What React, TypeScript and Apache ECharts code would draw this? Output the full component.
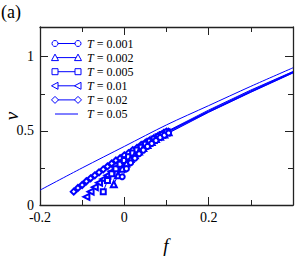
import React, { useEffect, useRef } from "react";
import * as echarts from "echarts";

const BLUE = "#0000ff";
const AXIS = "#222222";
const FONT = "Liberation Serif";

// tail points (no markers) shared by the marked curves
const tailF = [0.2, 0.3, 0.4];

// T = 0.001 (circles)
const fT001 = [-0.005, 0.005, 0.015, 0.025, 0.035, 0.045, 0.055, 0.065, 0.075, 0.085, 0.095, 0.105];
const vT001 = [0.19, 0.245, 0.285, 0.315, 0.345, 0.37, 0.395, 0.415, 0.435, 0.455, 0.47, 0.485];
const tailT001 = [0.625, 0.76, 0.89];

// T = 0.002 (up triangles)
const fT002 = [-0.025, -0.015, -0.005, 0.005, 0.015, 0.025, 0.035, 0.045, 0.055, 0.065, 0.075, 0.085, 0.095, 0.105];
const vT002 = [0.14, 0.2, 0.245, 0.28, 0.31, 0.335, 0.36, 0.385, 0.405, 0.425, 0.445, 0.46, 0.475, 0.49];
const tailT002 = [0.627, 0.762, 0.892];

// T = 0.005 (squares)
const fT005 = [-0.05, -0.04, -0.03, -0.02, -0.01, 0, 0.01, 0.02, 0.03, 0.04, 0.05, 0.06, 0.07, 0.08, 0.09, 0.1];
const vT005 = [0.09, 0.165, 0.21, 0.245, 0.275, 0.3, 0.325, 0.35, 0.37, 0.39, 0.41, 0.43, 0.445, 0.46, 0.475, 0.49];
const tailT005 = [0.63, 0.765, 0.895];

// T = 0.01 (left triangles)
const fT01 = [-0.09, -0.08, -0.07, -0.06, -0.05, -0.04, -0.03, -0.02, -0.01, 0, 0.01, 0.02, 0.03, 0.04, 0.05, 0.06, 0.07, 0.08, 0.09, 0.1];
const vT01 = [0.055, 0.09, 0.12, 0.15, 0.175, 0.2, 0.225, 0.25, 0.28, 0.305, 0.325, 0.345, 0.365, 0.385, 0.405, 0.425, 0.44, 0.46, 0.475, 0.49];
const tailT01 = [0.635, 0.77, 0.898];

// T = 0.02 (diamonds)
const fT02 = [-0.12, -0.11, -0.1, -0.09, -0.08, -0.07, -0.06, -0.05, -0.04, -0.03, -0.02, -0.01, 0, 0.01, 0.02, 0.03, 0.04, 0.05, 0.06, 0.07, 0.08, 0.09, 0.1];
const vT02 = [0.09, 0.115, 0.135, 0.16, 0.18, 0.2, 0.22, 0.24, 0.26, 0.28, 0.3, 0.315, 0.335, 0.35, 0.37, 0.385, 0.405, 0.42, 0.435, 0.45, 0.465, 0.48, 0.495];
const tailT02 = [0.64, 0.775, 0.9];

// T = 0.05 (plain line)
const fT05 = [-0.2, -0.1, 0, 0.1, 0.2, 0.3, 0.4];
const vT05 = [0.1, 0.25, 0.395, 0.54, 0.67, 0.8, 0.925];

const legendLabels = ["0.001", "0.002", "0.005", "0.01", "0.02", "0.05"];
const xTicks = [-0.2, 0, 0.2];
const yTicks = [0, 0.5, 1];

const fmt = (ticks: number[]) => (val: number) => {
  const t = ticks.find((k) => Math.abs(k - val) < 1e-9);
  return t === undefined ? "" : String(t);
};

const build = (f: number[], v: number[], tv: number[]) => {
  const d: any[] = f.map((x, i) => [x, v[i]]);
  tailF.forEach((x, i) => d.push({ value: [x, tv[i]], symbol: "none" }));
  return d;
};

const markerSeries = (name: string, symbol: string, data: any[], rotate = 0, size = 6) => ({
  name,
  type: "line",
  data,
  symbol,
  symbolSize: size,
  symbolRotate: rotate,
  showSymbol: true,
  showAllSymbol: true,
  lineStyle: { color: BLUE, width: 1 },
  itemStyle: { color: BLUE, borderWidth: 1 },
  z: 3,
});

const legendGraphic = () => {
  const out: any[] = [];
  const y0 = 43.5;
  const step = 14.1;
  const x1 = 55;
  const x2 = 78;
  const stroke = { stroke: BLUE, lineWidth: 1, fill: "#ffffff" };
  const sym = (kind: string, cx: number, cy: number) => {
    const r = 3;
    if (kind === "circle") return { type: "circle", shape: { cx, cy, r }, style: stroke, z: 10 };
    if (kind === "up")
      return { type: "polygon", shape: { points: [[cx, cy - r - 0.5], [cx + r + 0.5, cy + r], [cx - r - 0.5, cy + r]] }, style: stroke, z: 10 };
    if (kind === "rect") return { type: "rect", shape: { x: cx - r, y: cy - r, width: 2 * r, height: 2 * r }, style: stroke, z: 10 };
    if (kind === "left")
      return { type: "polygon", shape: { points: [[cx - r - 0.5, cy], [cx + r, cy - r - 0.5], [cx + r, cy + r + 0.5]] }, style: stroke, z: 10 };
    return { type: "polygon", shape: { points: [[cx, cy - r - 0.5], [cx + r + 0.5, cy], [cx, cy + r + 0.5], [cx - r - 0.5, cy]] }, style: stroke, z: 10 };
  };
  const kinds = ["circle", "up", "rect", "left", "diamond", "none"];
  legendLabels.forEach((lab, i) => {
    const y = y0 + i * step;
    out.push({ type: "line", shape: { x1, y1: y, x2, y2: y }, style: { stroke: BLUE, lineWidth: 1 }, z: 9 });
    if (kinds[i] !== "none") {
      out.push(sym(kinds[i], x1, y));
      out.push(sym(kinds[i], x2, y));
    }
    out.push({
      type: "text",
      x: 87,
      y,
      style: {
        text: "{i|T} = " + lab,
        fontFamily: FONT,
        fontSize: 12,
        fill: "#000",
        verticalAlign: "middle",
        rich: { i: { fontStyle: "italic", fontFamily: FONT, fontSize: 12, fill: "#000" } },
      },
      z: 10,
    });
  });
  return out;
};

export default function App() {
  const ref = useRef<HTMLDivElement>(null);
  useEffect(() => {
    if (!ref.current) return;
    const chart = echarts.init(ref.current, null, { renderer: "svg" });
    const axisCommon = {
      type: "value",
      axisLine: { show: true, onZero: false, lineStyle: { color: AXIS, width: 1.3 } },
      axisTick: { show: true, inside: true, length: 8, lineStyle: { color: AXIS, width: 1 } },
      minorTick: { show: true, splitNumber: 2, length: 5, lineStyle: { color: AXIS, width: 1 } },
      splitLine: { show: false },
      minorSplitLine: { show: false },
    };
    chart.setOption({
      animation: false,
      backgroundColor: "#ffffff",
      grid: { left: 40, top: 27, right: 2, bottom: 51, containLabel: false, outerBoundsMode: "none" },
      xAxis: [
        {
          ...axisCommon,
          min: -0.2,
          max: 0.4,
          interval: 0.2,
          position: "bottom",
          axisLabel: { formatter: fmt(xTicks), fontFamily: FONT, fontSize: 14, color: "#000", margin: 5 },
        },
        {
          ...axisCommon,
          min: -0.2,
          max: 0.4,
          interval: 0.2,
          position: "top",
          axisLabel: { show: false },
        },
      ],
      yAxis: [
        {
          ...axisCommon,
          min: 0,
          max: 1.2,
          interval: 0.5,
          position: "left",
          axisLabel: { formatter: fmt(yTicks), fontFamily: FONT, fontSize: 14, color: "#000", margin: 6 },
        },
        {
          ...axisCommon,
          min: 0,
          max: 1.2,
          interval: 0.5,
          position: "right",
          axisLabel: { show: false },
        },
      ],
      series: [
        {
          name: "T = 0.05",
          type: "line",
          data: fT05.map((x, i) => [x, vT05[i]]),
          symbol: "none",
          smooth: 0.3,
          lineStyle: { color: BLUE, width: 1 },
          z: 2,
        },
        markerSeries("T = 0.02", "emptyDiamond", build(fT02, vT02, tailT02), 0, 6),
        markerSeries("T = 0.01", "emptyTriangle", build(fT01, vT01, tailT01), 90, 6),
        markerSeries("T = 0.005", "emptyRect", build(fT005, vT005, tailT005), 0, 5),
        markerSeries("T = 0.002", "emptyTriangle", build(fT002, vT002, tailT002), 0, 6),
        markerSeries("T = 0.001", "emptyCircle", build(fT001, vT001, tailT001), 0, 5),
      ],
      graphic: [
        {
          type: "text",
          x: 1,
          y: 3,
          style: { text: "(a)", fontFamily: FONT, fontSize: 18, fill: "#000" },
        },
        {
          type: "text",
          x: 11,
          y: 116,
          rotation: Math.PI / 2,
          style: {
            text: "v",
            fontFamily: FONT,
            fontStyle: "italic",
            fontSize: 19,
            fill: "#000",
            align: "center",
            verticalAlign: "middle",
          },
        },
        {
          type: "text",
          x: 166,
          y: 245,
          style: {
            text: "f",
            fontFamily: FONT,
            fontStyle: "italic",
            fontSize: 19,
            fill: "#000",
            align: "center",
            verticalAlign: "middle",
          },
        },
        ...legendGraphic(),
      ],
    });
    return () => chart.dispose();
  }, []);
  return <div ref={ref} style={{ position: "fixed", left: 0, top: 0, width: 295, height: 256 }} />;
}
